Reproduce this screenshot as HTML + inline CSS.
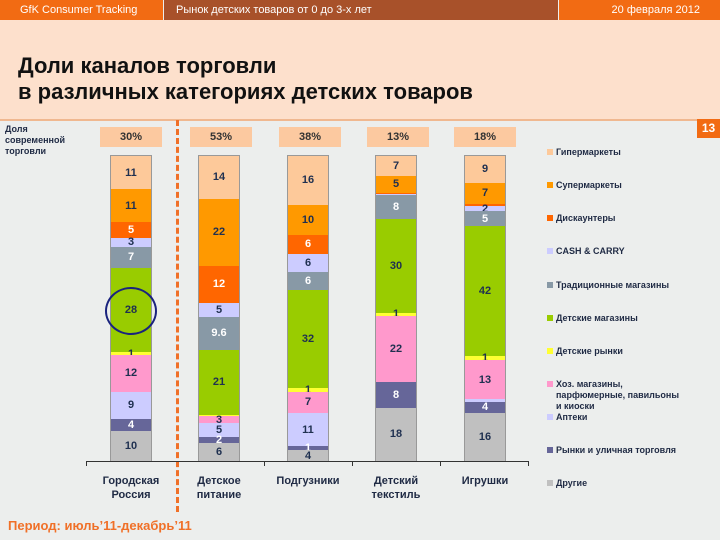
<!DOCTYPE html>
<html><head><meta charset="utf-8"><style>
body{margin:0;width:720px;height:540px;overflow:hidden;background:#eceeed;font-family:"Liberation Sans",sans-serif;position:relative}
div{position:absolute}
.hd{top:0;height:20px;color:#fff;font-size:11px;line-height:20px}
.pb{top:127px;height:20px;width:62px;background:#fcc9a0;font-weight:bold;font-size:11px;color:#333;text-align:center;line-height:20px}
.bar{top:155px;width:42px;height:307px;display:flex;flex-direction:column;box-sizing:border-box;border:1px solid #999}
.bar .s{position:static;min-height:0;width:100%;display:flex;align-items:center;justify-content:center;font-weight:bold;font-size:11px;color:#1f3050;overflow:visible;line-height:10px}
.bar .w{color:#fff}
.lg{left:547px;font-size:9px;font-weight:bold;color:#1f2a44;line-height:11px}
.lg i{position:absolute;left:0;top:2px;width:6px;height:6px}
.lg span{margin-left:9px;display:block}
.cat{top:474px;width:80px;text-align:center;font-size:11px;font-weight:bold;color:#1f2a44;line-height:14px}
</style></head><body>
<div class="hd" style="left:0;width:163px;background:#f26b13;padding-left:20px;box-sizing:border-box">GfK Consumer Tracking</div>
<div class="hd" style="left:164px;width:394px;background:#a8512a;padding-left:12px;box-sizing:border-box">Рынок детских товаров от 0 до 3-х лет</div>
<div class="hd" style="left:559px;width:161px;background:#f26b13;text-align:right;padding-right:20px;box-sizing:border-box">20 февраля 2012</div>
<div style="top:20px;left:0;width:720px;height:99px;background:#fde0cc;border-bottom:2px solid #f0b890"></div>
<div style="top:53px;left:18px;font-size:22px;font-weight:bold;color:#111;line-height:26px">Доли каналов торговли<br>в различных категориях детских товаров</div>
<div style="top:119px;left:697px;width:23px;height:19px;background:#f26b13;color:#fff;font-weight:bold;font-size:12px;text-align:center;line-height:19px">13</div>
<div style="top:124px;left:5px;font-size:9px;font-weight:bold;color:#1f2a44;line-height:11px">Доля<br>современной<br>торговли</div>
<div class="pb" style="left:100px">30%</div>
<div class="pb" style="left:190px">53%</div>
<div class="pb" style="left:279px">38%</div>
<div class="pb" style="left:367px">13%</div>
<div class="pb" style="left:454px">18%</div>
<div style="left:176px;top:120px;height:392px;border-left:3px dashed #f07028"></div>

<div class="bar" style="left:110px">
<div class="s" style="flex:11;background:#fdc99a">11</div><div class="s" style="flex:11;background:#ff9900">11</div><div class="s w" style="flex:5;background:#ff6600">5</div><div class="s" style="flex:3;background:#ccccff">3</div><div class="s w" style="flex:7;background:#8899a6">7</div><div class="s" style="flex:28;background:#99cc00">28</div><div class="s" style="flex:1;background:#ffff33">1</div><div class="s" style="flex:12;background:#ff99cc">12</div><div class="s" style="flex:9;background:#ccccff">9</div><div class="s w" style="flex:4;background:#666699">4</div><div class="s" style="flex:10;background:#c0c0c0">10</div></div>
<div class="bar" style="left:198px">
<div class="s" style="flex:14;background:#fdc99a">14</div><div class="s" style="flex:22;background:#ff9900">22</div><div class="s w" style="flex:12;background:#ff6600">12</div><div class="s" style="flex:4.5;background:#ccccff">5</div><div class="s w" style="flex:11;background:#8899a6">9.6</div><div class="s" style="flex:21;background:#99cc00">21</div><div class="s" style="flex:0.4;background:#ffff33"></div><div class="s" style="flex:2.5;background:#ff99cc">3</div><div class="s" style="flex:4.3;background:#ccccff">5</div><div class="s w" style="flex:2;background:#666699">2</div><div class="s" style="flex:6;background:#c0c0c0">6</div></div>
<div class="bar" style="left:287px">
<div class="s" style="flex:16;background:#fdc99a">16</div><div class="s" style="flex:10;background:#ff9900">10</div><div class="s w" style="flex:6;background:#ff6600">6</div><div class="s" style="flex:6;background:#ccccff">6</div><div class="s w" style="flex:6;background:#8899a6">6</div><div class="s" style="flex:32;background:#99cc00">32</div><div class="s" style="flex:1.3;background:#ffff33">1</div><div class="s" style="flex:7;background:#ff99cc">7</div><div class="s" style="flex:11;background:#ccccff">11</div><div class="s w" style="flex:1.3;background:#666699">1</div><div class="s" style="flex:3.5;background:#c0c0c0">4</div></div>
<div class="bar" style="left:375px">
<div class="s" style="flex:6.5;background:#fdc99a">7</div><div class="s" style="flex:5.5;background:#ff9900">5</div><div class="s" style="flex:0.5;background:#ff6600"></div><div class="s" style="flex:0.3;background:#ccccff"></div><div class="s w" style="flex:8;background:#8899a6">8</div><div class="s" style="flex:30.5;background:#99cc00">30</div><div class="s" style="flex:1.2;background:#ffff33">1</div><div class="s" style="flex:21.5;background:#ff99cc">22</div><div class="s w" style="flex:8.5;background:#666699">8</div><div class="s" style="flex:17.5;background:#c0c0c0">18</div></div>
<div class="bar" style="left:464px">
<div class="s" style="flex:8.7;background:#fdc99a">9</div><div class="s" style="flex:7;background:#ff9900">7</div><div class="s" style="flex:0.8;background:#ff6600"></div><div class="s" style="flex:1.5;background:#ccccff">2</div><div class="s w" style="flex:5;background:#8899a6">5</div><div class="s" style="flex:42.5;background:#99cc00">42</div><div class="s" style="flex:1.2;background:#ffff33">1</div><div class="s" style="flex:12.8;background:#ff99cc">13</div><div class="s" style="flex:0.9;background:#ccccff"></div><div class="s w" style="flex:3.6;background:#666699">4</div><div class="s" style="flex:15.7;background:#c0c0c0">16</div></div>

<div style="left:105px;top:287px;width:48px;height:44px;border:2px solid #1a237e;border-radius:50%"></div>
<div style="left:86px;top:461px;width:443px;border-top:1px solid #333"></div>
<div style="left:86px;top:461px;height:5px;border-left:1px solid #333"></div>
<div style="left:264px;top:461px;height:5px;border-left:1px solid #333"></div>
<div style="left:352px;top:461px;height:5px;border-left:1px solid #333"></div>
<div style="left:440px;top:461px;height:5px;border-left:1px solid #333"></div>
<div style="left:528px;top:461px;height:5px;border-left:1px solid #333"></div>
<div class="cat" style="left:91px">Городская<br>Россия</div>
<div class="cat" style="left:179px">Детское<br>питание</div>
<div class="cat" style="left:268px">Подгузники</div>
<div class="cat" style="left:356px">Детский<br>текстиль</div>
<div class="cat" style="left:445px">Игрушки</div>

<div class="lg" style="top:147px"><i style="background:#fdc99a"></i><span>Гипермаркеты</span></div>
<div class="lg" style="top:180px"><i style="background:#ff9900"></i><span>Супермаркеты</span></div>
<div class="lg" style="top:213px"><i style="background:#ff6600"></i><span>Дискаунтеры</span></div>
<div class="lg" style="top:246px"><i style="background:#ccccff"></i><span>CASH &amp; CARRY</span></div>
<div class="lg" style="top:280px"><i style="background:#8899a6"></i><span>Традиционные магазины</span></div>
<div class="lg" style="top:313px"><i style="background:#99cc00"></i><span>Детские магазины</span></div>
<div class="lg" style="top:346px"><i style="background:#ffff33"></i><span>Детские рынки</span></div>
<div class="lg" style="top:379px"><i style="background:#ff99cc"></i><span>Хоз. магазины,<br>парфюмерные, павильоны<br>и киоски</span></div>
<div class="lg" style="top:412px"><i style="background:#ccccff"></i><span>Аптеки</span></div>
<div class="lg" style="top:445px"><i style="background:#666699"></i><span>Рынки и уличная торговля</span></div>
<div class="lg" style="top:478px"><i style="background:#c0c0c0"></i><span>Другие</span></div>

<div style="left:8px;top:518px;font-size:13px;font-weight:bold;color:#f07028">Период: июль’11-декабрь’11</div>
</body></html>
